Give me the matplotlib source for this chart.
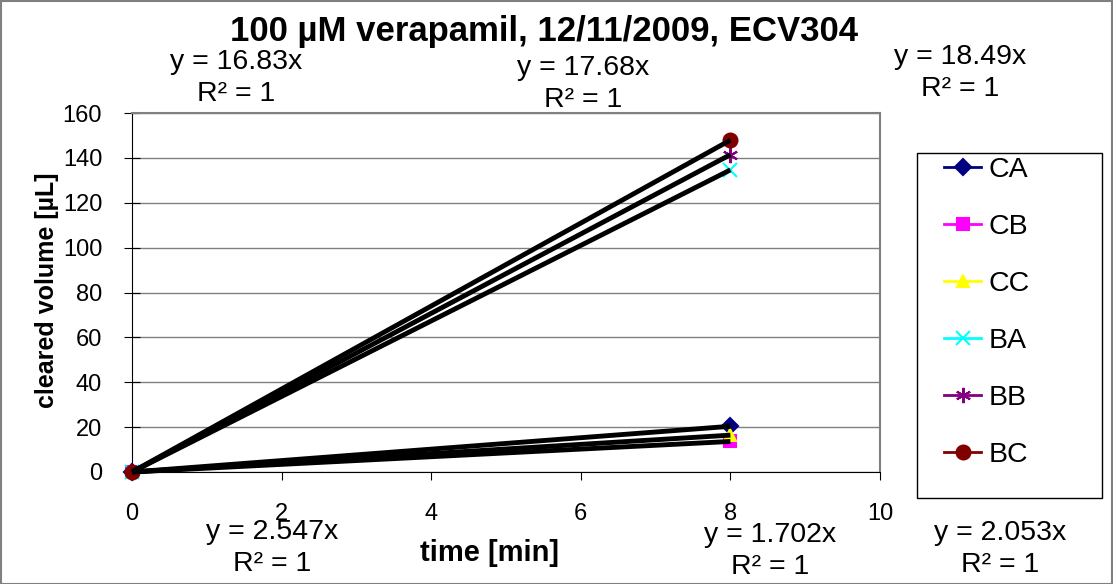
import numpy as np
import matplotlib.pyplot as plt
from matplotlib.patches import Rectangle

plt.rcParams['font.family'] = ['Liberation Sans', 'DejaVu Sans']

# cleared volume at t = 0 and t = 8 min for each well
series = ['CA', 'CB', 'CC', 'BA', 'BB', 'BC']
time_min = [0, 8]
volumes = {
    'CA': [0, 20.38],
    'CB': [0, 13.62],
    'CC': [0, 16.42],
    'BA': [0, 134.6],
    'BB': [0, 141.4],
    'BC': [0, 147.9],
}
# linear trendline slopes (forced through zero)
slopes = {'CA': 2.547, 'CB': 1.702, 'CC': 2.053, 'BA': 16.83, 'BB': 17.68, 'BC': 18.49}

colors = {'CA': '#000080', 'CB': '#FF00FF', 'CC': '#FFFF00',
          'BA': '#00FFFF', 'BB': '#800080', 'BC': '#800000'}
markers = {'CA': 'D', 'CB': 's', 'CC': '^', 'BA': 'x', 'BB': (6, 2, 0), 'BC': 'o'}
msizes = {'CA': 8, 'CB': 9, 'CC': 9, 'BA': 10, 'BB': 11, 'BC': 10}

W, H = 1113, 584
fig = plt.figure(figsize=(W / 100, H / 100), dpi=100)
ax = fig.add_axes([132 / W, 1 - 472 / H, (880 - 132) / W, (472 - 113) / H])

handles = []
for s in series:
    h, = ax.plot(time_min, volumes[s], color=colors[s], marker=markers[s],
                 markersize=msizes[s], markeredgewidth=1.5, lw=2,
                 clip_on=False, zorder=3, label=s)
    handles.append(h)

for s in series:
    xt = np.array([0, 8])
    ax.plot(xt, slopes[s] * xt, color='black', lw=3.5, solid_capstyle='butt',
            clip_on=False, zorder=4)

ax.set_xlim(0, 10)
ax.set_ylim(0, 160)
ax.set_xticks(range(0, 11, 2))
ax.set_yticks(range(0, 161, 20))
ax.yaxis.grid(True, color='#808080', lw=1)
ax.set_axisbelow(True)
ax.tick_params(labelsize=17, color='black')
ax.tick_params(axis='x', direction='out', length=6, pad=16)
ax.tick_params(axis='y', direction='inout', length=11, pad=16)
for side in ['top', 'right']:
    ax.spines[side].set_color('#808080')
    ax.spines[side].set_linewidth(1.5)

ax.set_xlabel('time [min]', fontsize=21, fontweight='bold', va='center')
ax.xaxis.set_label_coords((490 - 132) / 748, (472 - 553) / 359)
ax.set_ylabel('cleared volume [µL]', fontsize=18, fontweight='bold', va='center')
ax.yaxis.set_label_coords((47 - 132) / 748, (472 - 290) / 359)

fig.text(544 / W, 1 - 32 / H, '100 µM verapamil, 12/11/2009, ECV304',
         ha='center', va='center', fontsize=25, fontweight='bold')

# trendline equation labels
label_pos = {'BA': (236, 62), 'BB': (583, 68), 'BC': (960, 57),
             'CA': (272, 532), 'CB': (770, 535), 'CC': (1000, 533)}
for s in series:
    px, py = label_pos[s]
    fig.text(px / W, 1 - py / H, f'y = {slopes[s]}x', ha='center', va='center',
             fontsize=20.5)
    fig.text(px / W, 1 - (py + 32) / H, 'R² = 1', ha='center', va='center',
             fontsize=20.5)

# legend entries, with the box drawn separately
fig.legend(handles=handles, loc='upper left',
           bbox_to_anchor=(944 / W, 1 - 157 / H), bbox_transform=fig.transFigure,
           fontsize=20.5, frameon=False, labelspacing=1.09, handlelength=1.3,
           handletextpad=0.25, borderaxespad=0, borderpad=0)
fig.patches.append(Rectangle((917 / W, 1 - 498 / H), (1102 - 917) / W, (498 - 153) / H,
                             transform=fig.transFigure, fill=False,
                             edgecolor='black', lw=1))

fig.patches.append(Rectangle((0.5 / W, 0.5 / H), 1 - 1.5 / W, 1 - 1.5 / H,
                             transform=fig.transFigure, fill=False,
                             edgecolor='#808080', lw=1.5))

fig.savefig('out.png', dpi=100)
